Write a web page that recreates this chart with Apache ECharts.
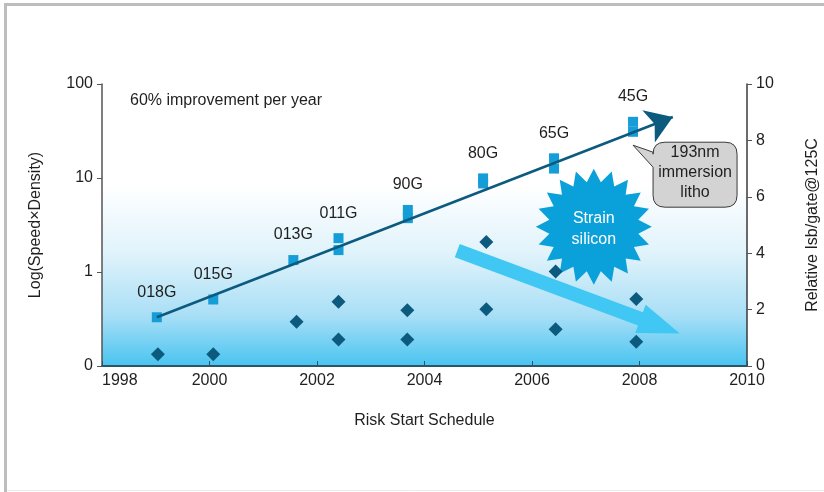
<!DOCTYPE html>
<html>
<head>
<meta charset="utf-8">
<script src="https://cdn.jsdelivr.net/npm/echarts@6/dist/echarts.min.js"></script>
<style>
  html, body { margin: 0; padding: 0; background: #ffffff; }
  #chart { width: 824px; height: 492px; }
</style>
</head>
<body>
<div id="chart"></div>
<script>
// ---- Process nodes: risk-start year and Log(Speed×Density) (upper / lower reading) ----
const nodeNames = ['018G', '015G', '013G', '011G', '90G', '80G', '65G', '45G'];
const nodeYears = [1999.02, 2000.07, 2001.56, 2002.40, 2003.69, 2005.09, 2006.41, 2007.88];
const nodeUpper = [0.33, 0.51, 1.34, 2.29, 4.57, 9.9, 16.2, 39.6];
const nodeLower = [null, null, null, 1.71, 3.74, 8.75, 12.6, 31.0];

// ---- Relative Isb/gate @125C (right axis) ----
const leakYears  = [1999.04, 2000.07, 2001.62, 2002.40, 2002.40, 2003.68, 2003.68,
                    2005.15, 2005.15, 2006.44, 2006.44, 2007.94, 2007.94];
const leakValues = [0.42, 0.42, 1.57, 2.28, 0.94, 1.98, 0.94,
                    4.40, 2.01, 3.35, 1.30, 2.38, 0.86];

// ---- 60% per year trend (start / tip of the arrow) ----
const trendYears  = [1999.02, 2008.62];
const trendValues = [0.33, 44.6];

// ---- Axes ----
const yearMin = 1998, yearMax = 2010, yearStep = 2;
const logMin = 0.1, logMax = 100;
const leakMin = 0, leakMax = 10, leakStep = 2;

// ---- Annotations (data coordinates on the right axis) ----
const trendNote   = '60% improvement per year';
const strainAt    = [2007.15, 4.94];
const strainText  = ['Strain', 'silicon'];
const leakArrow   = [2004.61, 4.09, 2008.75, 1.15];
const lithoAt     = [2007.88, 7.83];
const lithoText   = ['193nm', 'immersion', 'litho'];

const FONT = "'Liberation Sans', Arial, Helvetica, sans-serif";
const INK = '#1f1f1f';
const NODE_BLUE = '#159dd8';
const DARK_TEAL = '#0c5b7f';
const LIGHT_ARROW = '#41c7f3';

// Node squares: upper reading carries the node label
const nodeData = [];
nodeNames.forEach((name, i) => {
  nodeData.push({ value: [nodeYears[i], nodeUpper[i]], name: name, label: { show: true } });
  if (nodeLower[i] != null) {
    nodeData.push({ value: [nodeYears[i], nodeLower[i]], name: '' });
  }
});

const leakData = leakYears.map((y, i) => [y, leakValues[i]]);

const chart = echarts.init(document.getElementById('chart'), null, { renderer: 'canvas' });

const option = {
  animation: false,
  backgroundColor: '#ffffff',
  textStyle: { fontFamily: FONT },
  title: {
    text: trendNote,
    left: 130, top: 93, padding: 0,
    textStyle: { fontFamily: FONT, fontSize: 16, fontWeight: 'normal', color: INK }
  },
  graphic: [
    // page frame
    { type: 'line', shape: { x1: 5.5, y1: 3, x2: 5.5, y2: 492 }, style: { stroke: '#bdbdbd', lineWidth: 3 }, z: 100 },
    { type: 'line', shape: { x1: 4, y1: 4.5, x2: 824, y2: 4.5 }, style: { stroke: '#bdbdbd', lineWidth: 3 }, z: 100 },
    { type: 'line', shape: { x1: 7, y1: 490.5, x2: 824, y2: 490.5 }, style: { stroke: '#ececec', lineWidth: 1 }, z: 100 }
  ],
  grid: {
    left: 102, right: 77, top: 84, bottom: 126,
    containLabel: false,
    outerBoundsMode: 'none',
    show: true,
    borderWidth: 0,
    backgroundColor: {
      type: 'linear', x: 0, y: 0, x2: 0, y2: 1,
      colorStops: [
        { offset: 0, color: '#ffffff' },
        { offset: 0.36, color: '#ffffff' },
        { offset: 0.6, color: '#e0f3fb' },
        { offset: 0.82, color: '#a9dff6' },
        { offset: 1, color: '#48c4f0' }
      ]
    }
  },
  xAxis: {
    type: 'value',
    min: yearMin, max: yearMax, interval: yearStep,
    name: 'Risk Start Schedule',
    nameLocation: 'middle', nameGap: 47,
    nameTextStyle: { fontFamily: FONT, fontSize: 16, color: INK },
    axisLine: { lineStyle: { color: '#2c5366', width: 2 } },
    axisTick: { inside: true, length: 5, lineStyle: { color: '#2c5366', width: 1 } },
    axisLabel: {
      fontFamily: FONT, fontSize: 16, color: INK, margin: 7, alignMinLabel: 'left',
      formatter: v => String(v)
    },
    splitLine: { show: false }
  },
  yAxis: [
    {
      type: 'log', logBase: 10,
      min: logMin, max: logMax,
      position: 'left',
      name: 'Log(Speed×Density)',
      nameLocation: 'middle', nameGap: 58, nameRotate: 90,
      nameTextStyle: { fontFamily: FONT, fontSize: 16, color: INK },
      axisLine: { show: true, lineStyle: { color: '#555555', width: 1.5 } },
      axisTick: { show: true, length: 5, lineStyle: { color: '#555555' } },
      axisLabel: {
        fontFamily: FONT, fontSize: 16, color: INK, margin: 9,
        formatter: v => (v < 1 ? '0' : String(Math.round(v)))
      },
      splitLine: { show: false }
    },
    {
      type: 'value',
      min: leakMin, max: leakMax, interval: leakStep,
      position: 'right',
      name: 'Relative Isb/gate@125C',
      nameLocation: 'middle', nameGap: 58, nameRotate: 90,
      nameTextStyle: { fontFamily: FONT, fontSize: 16, color: INK },
      axisLine: { show: true, lineStyle: { color: '#3a3a3a', width: 1.5 } },
      axisTick: { show: true, length: 5, lineStyle: { color: '#555555' } },
      axisLabel: { fontFamily: FONT, fontSize: 16, color: INK, margin: 9 },
      splitLine: { show: false }
    }
  ],
  series: [
    // falling leakage arrow
    {
      type: 'custom',
      name: 'leakTrend',
      xAxisIndex: 0, yAxisIndex: 1,
      z: 2,
      silent: true,
      encode: { x: [0, 2], y: [1, 3] },
      data: [leakArrow],
      renderItem: function (params, api) {
        const s = api.coord([api.value(0), api.value(1)]);
        const t = api.coord([api.value(2), api.value(3)]);
        const dx = t[0] - s[0], dy = t[1] - s[1];
        const len = Math.sqrt(dx * dx + dy * dy);
        const ux = dx / len, uy = dy / len;
        const nx = -uy, ny = ux;
        const hw = 7, HW = 15, HL = 42;
        const hx = t[0] - ux * HL, hy = t[1] - uy * HL;
        const pts = [
          [s[0] + nx * hw, s[1] + ny * hw],
          [hx + nx * hw, hy + ny * hw],
          [hx + nx * HW, hy + ny * HW],
          [t[0], t[1]],
          [hx - nx * HW, hy - ny * HW],
          [hx - nx * hw, hy - ny * hw],
          [s[0] - nx * hw, s[1] - ny * hw]
        ];
        return { type: 'polygon', shape: { points: pts }, style: { fill: LIGHT_ARROW } };
      }
    },
    // "Strain silicon" starburst
    {
      type: 'custom',
      name: 'strain',
      xAxisIndex: 0, yAxisIndex: 1,
      z: 3,
      silent: true,
      data: [strainAt],
      renderItem: function (params, api) {
        const c = api.coord([api.value(0), api.value(1)]);
        const spikes = 20, rOut = 58, rIn = 45;
        const pts = [];
        for (let k = 0; k < spikes * 2; k++) {
          const a = -Math.PI / 2 + k * Math.PI / spikes;
          const r = (k % 2 === 0) ? rOut : rIn;
          pts.push([c[0] + r * Math.cos(a), c[1] + r * Math.sin(a)]);
        }
        return {
          type: 'group',
          children: [
            { type: 'polygon', shape: { points: pts }, style: { fill: '#0aa0d9' } },
            { type: 'text', style: { text: strainText[0], x: c[0], y: c[1] - 8, align: 'center', verticalAlign: 'middle',
                fill: '#ffffff', font: '16px ' + FONT } },
            { type: 'text', style: { text: strainText[1], x: c[0], y: c[1] + 13, align: 'center', verticalAlign: 'middle',
                fill: '#ffffff', font: '16px ' + FONT } }
          ]
        };
      }
    },
    // leakage diamonds
    {
      type: 'scatter',
      name: 'Relative Isb/gate',
      xAxisIndex: 0, yAxisIndex: 1,
      z: 4,
      symbol: 'diamond',
      symbolSize: 14,
      itemStyle: { color: DARK_TEAL, opacity: 1 },
      data: leakData
    },
    // node squares with labels
    {
      type: 'scatter',
      name: 'Speed×Density',
      xAxisIndex: 0, yAxisIndex: 0,
      z: 5,
      symbol: 'rect',
      symbolSize: [10, 10],
      itemStyle: { color: NODE_BLUE, opacity: 1 },
      label: {
        show: false,
        position: 'top', distance: 12,
        formatter: '{b}',
        fontFamily: FONT, fontSize: 16, color: INK
      },
      data: nodeData
    },
    // 60% per year trend arrow
    {
      type: 'lines',
      name: 'trend',
      coordinateSystem: 'cartesian2d',
      xAxisIndex: 0, yAxisIndex: 0,
      z: 6,
      symbol: ['none', 'arrow'],
      symbolSize: [22, 26],
      lineStyle: { color: DARK_TEAL, width: 2.5, opacity: 1 },
      data: [{ coords: [[trendYears[0], trendValues[0]], [trendYears[1], trendValues[1]]] }]
    },
    // "193nm immersion litho" callout
    {
      type: 'custom',
      name: 'litho',
      xAxisIndex: 0, yAxisIndex: 1,
      z: 7,
      silent: true,
      data: [lithoAt],
      renderItem: function (params, api) {
        const p = api.coord([api.value(0), api.value(1)]);
        const x0 = p[0] + 20, y0 = p[1] - 3, w = 84, h = 65, r = 12;
        const x1 = x0 + w, y1 = y0 + h;
        const d = [
          'M', x0 + r, y0,
          'L', x1 - r, y0, 'Q', x1, y0, x1, y0 + r,
          'L', x1, y1 - r, 'Q', x1, y1, x1 - r, y1,
          'L', x0 + r, y1, 'Q', x0, y1, x0, y1 - r,
          'L', x0, y0 + 25,
          'L', p[0], p[1],
          'L', x0, y0 + 10,
          'L', x0, y0 + r, 'Q', x0, y0, x0 + r, y0, 'Z'
        ].join(' ');
        const cx = x0 + w / 2;
        return {
          type: 'group',
          children: [
            { type: 'path', shape: { pathData: d }, style: { fill: '#d3d3d3', stroke: '#3a3a3a', lineWidth: 1 } },
            { type: 'text', style: { text: lithoText[0], x: cx, y: y0 + 10, align: 'center', verticalAlign: 'middle', fill: INK, font: '16px ' + FONT } },
            { type: 'text', style: { text: lithoText[1], x: cx, y: y0 + 30, align: 'center', verticalAlign: 'middle', fill: INK, font: '16px ' + FONT } },
            { type: 'text', style: { text: lithoText[2], x: cx, y: y0 + 50, align: 'center', verticalAlign: 'middle', fill: INK, font: '16px ' + FONT } }
          ]
        };
      }
    }
  ]
};

chart.setOption(option);
</script>
</body>
</html>
